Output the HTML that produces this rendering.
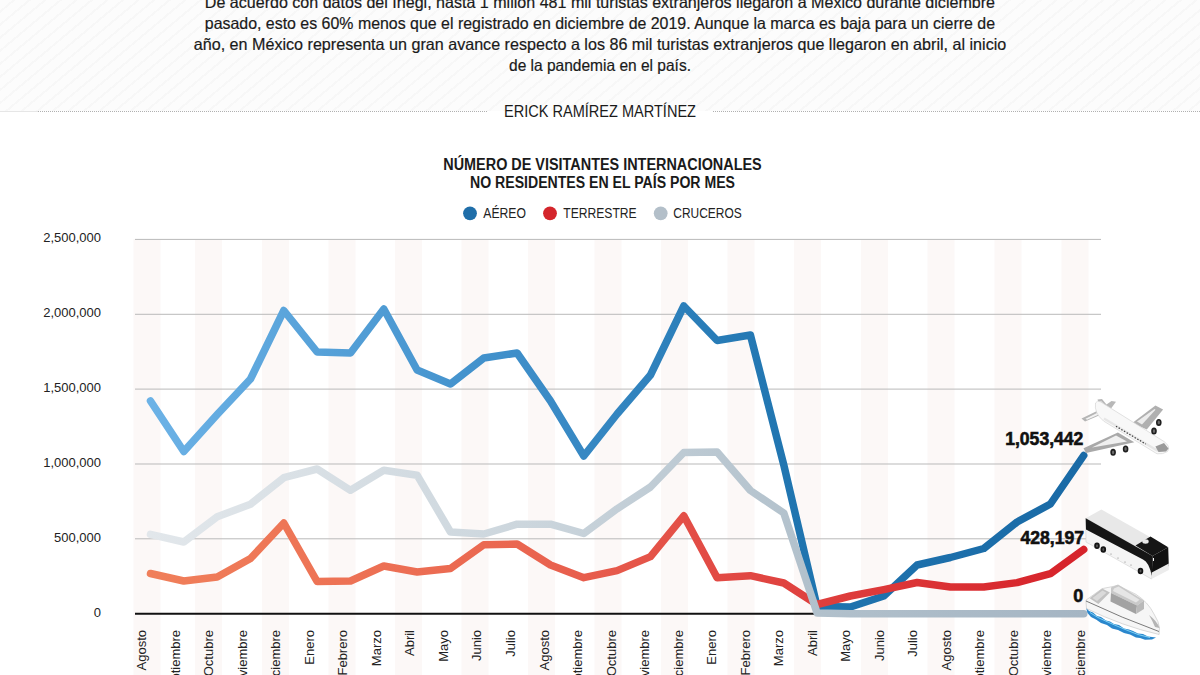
<!DOCTYPE html>
<html><head><meta charset="utf-8">
<style>
html,body{margin:0;padding:0;}
body{width:1200px;height:675px;overflow:hidden;background:#fff;position:relative;font-family:"Liberation Sans",sans-serif;color:#1a1a1a;}
#hdr{position:absolute;left:0;top:0;width:1200px;height:111px;background-color:#fcfcfc;
background-image:repeating-linear-gradient(140deg, rgba(0,0,0,0) 0px, rgba(0,0,0,0) 8px, rgba(0,0,0,0.02) 8px, rgba(0,0,0,0.02) 10px);}
.pl{position:absolute;left:0;width:1200px;text-align:center;font-size:16px;line-height:20px;white-space:nowrap;color:#1c1c1c;}
#auth{position:absolute;left:0;top:101px;width:1200px;text-align:center;font-size:14.5px;line-height:20px;color:#1c1c1c;}
.dot{position:absolute;top:111px;height:0;border-top:1px dotted #b5b5b5;}
svg{position:absolute;left:0;top:0;}
.pt{font-size:16.5px;fill:#1a1a1a;stroke:#1a1a1a;stroke-width:0.2px;}
.au{font-size:16.5px;fill:#1a1a1a;}
.yl{font-size:13px;fill:#222;}
.ml{font-size:13px;fill:#222;}
.tt{font-size:16px;font-weight:bold;fill:#1a1a1a;}
.lg{font-size:14px;fill:#222;}
.vl{font-size:18px;font-weight:bold;fill:#111;stroke:#111;stroke-width:0.6px;}
</style></head><body>
<div id="hdr"></div>
<svg width="1200" height="675" viewBox="0 0 1200 675">
<defs>
<linearGradient id="gb" gradientUnits="userSpaceOnUse" x1="150" y1="0" x2="1084" y2="0">
<stop offset="0" stop-color="#6cb2e6"/><stop offset="0.38" stop-color="#3f8fca"/><stop offset="0.7" stop-color="#1f74af"/><stop offset="1" stop-color="#1a6aa6"/></linearGradient>
<linearGradient id="gr" gradientUnits="userSpaceOnUse" x1="150" y1="0" x2="1084" y2="0">
<stop offset="0" stop-color="#f07f5a"/><stop offset="0.4" stop-color="#ea6650"/><stop offset="0.6" stop-color="#e24b45"/><stop offset="1" stop-color="#d6222a"/></linearGradient>
<linearGradient id="gg" gradientUnits="userSpaceOnUse" x1="150" y1="0" x2="1084" y2="0">
<stop offset="0" stop-color="#e2e7eb"/><stop offset="0.4" stop-color="#ccd6dd"/><stop offset="0.7" stop-color="#b2c1cc"/><stop offset="1" stop-color="#a5b5c3"/></linearGradient>
</defs>
<text x="204.8" y="7.5" class="pt" textLength="790.2" lengthAdjust="spacingAndGlyphs">De acuerdo con datos del Inegi, hasta 1 millón 481 mil turistas extranjeros llegaron a México durante diciembre</text>
<text x="204.8" y="28.8" class="pt" textLength="790.2" lengthAdjust="spacingAndGlyphs">pasado, esto es 60% menos que el registrado en diciembre de 2019. Aunque la marca es baja para un cierre de</text>
<text x="193.75" y="50.1" class="pt" textLength="812.5" lengthAdjust="spacingAndGlyphs">año, en México representa un gran avance respecto a los 86 mil turistas extranjeros que llegaron en abril, al inicio</text>
<text x="509" y="71.4" class="pt" textLength="182" lengthAdjust="spacingAndGlyphs">de la pandemia en el país.</text>
<text x="504" y="117" class="au" textLength="192" lengthAdjust="spacingAndGlyphs">ERICK RAMÍREZ MARTÍNEZ</text>
<line x1="0" y1="111.5" x2="38" y2="111.5" stroke="#e6e6e6" stroke-width="1"/>
<line x1="38" y1="111.5" x2="487.5" y2="111.5" stroke="#b0b0b0" stroke-width="1" stroke-dasharray="1 1"/>
<line x1="713" y1="111.5" x2="1200" y2="111.5" stroke="#b0b0b0" stroke-width="1" stroke-dasharray="1 1"/>
<rect x="133.5" y="239" width="27" height="436" fill="#fcf8f7"/><rect x="195.0" y="239" width="27" height="436" fill="#fcf8f7"/><rect x="262.0" y="239" width="27" height="436" fill="#fcf8f7"/><rect x="328.5" y="239" width="27" height="436" fill="#fcf8f7"/><rect x="395.0" y="239" width="27" height="436" fill="#fcf8f7"/><rect x="461.5" y="239" width="27" height="436" fill="#fcf8f7"/><rect x="528.0" y="239" width="27" height="436" fill="#fcf8f7"/><rect x="594.5" y="239" width="27" height="436" fill="#fcf8f7"/><rect x="661.0" y="239" width="27" height="436" fill="#fcf8f7"/><rect x="727.5" y="239" width="27" height="436" fill="#fcf8f7"/><rect x="794.0" y="239" width="27" height="436" fill="#fcf8f7"/><rect x="861.0" y="239" width="27" height="436" fill="#fcf8f7"/><rect x="927.5" y="239" width="27" height="436" fill="#fcf8f7"/><rect x="994.5" y="239" width="27" height="436" fill="#fcf8f7"/><rect x="1061.5" y="239" width="27" height="436" fill="#fcf8f7"/>
<line x1="135" y1="239.4" x2="1101" y2="239.4" stroke="#b9b9b9" stroke-width="1"/><line x1="135" y1="314.3" x2="1101" y2="314.3" stroke="#b9b9b9" stroke-width="1"/><line x1="135" y1="389.1" x2="1101" y2="389.1" stroke="#b9b9b9" stroke-width="1"/><line x1="135" y1="464.0" x2="1101" y2="464.0" stroke="#b9b9b9" stroke-width="1"/><line x1="135" y1="538.8" x2="1101" y2="538.8" stroke="#b9b9b9" stroke-width="1"/>
<line x1="135" y1="613.7" x2="1083" y2="613.7" stroke="#111" stroke-width="2"/>
<text x="101" y="242.4" text-anchor="end" class="yl">2,500,000</text><text x="101" y="317.3" text-anchor="end" class="yl">2,000,000</text><text x="101" y="392.1" text-anchor="end" class="yl">1,500,000</text><text x="101" y="467.0" text-anchor="end" class="yl">1,000,000</text><text x="101" y="541.8" text-anchor="end" class="yl">500,000</text><text x="101" y="616.7" text-anchor="end" class="yl">0</text>
<text transform="translate(146.3,630) rotate(-90)" text-anchor="end" class="ml">Agosto</text><text transform="translate(179.8,630) rotate(-90)" text-anchor="end" class="ml">Septiembre</text><text transform="translate(213.3,630) rotate(-90)" text-anchor="end" class="ml">Octubre</text><text transform="translate(246.8,630) rotate(-90)" text-anchor="end" class="ml">Noviembre</text><text transform="translate(280.4,630) rotate(-90)" text-anchor="end" class="ml">Diciembre</text><text transform="translate(313.9,630) rotate(-90)" text-anchor="end" class="ml">Enero</text><text transform="translate(347.4,630) rotate(-90)" text-anchor="end" class="ml">Febrero</text><text transform="translate(380.9,630) rotate(-90)" text-anchor="end" class="ml">Marzo</text><text transform="translate(414.4,630) rotate(-90)" text-anchor="end" class="ml">Abril</text><text transform="translate(447.9,630) rotate(-90)" text-anchor="end" class="ml">Mayo</text><text transform="translate(481.4,630) rotate(-90)" text-anchor="end" class="ml">Junio</text><text transform="translate(514.9,630) rotate(-90)" text-anchor="end" class="ml">Julio</text><text transform="translate(548.5,630) rotate(-90)" text-anchor="end" class="ml">Agosto</text><text transform="translate(582.0,630) rotate(-90)" text-anchor="end" class="ml">Septiembre</text><text transform="translate(615.5,630) rotate(-90)" text-anchor="end" class="ml">Octubre</text><text transform="translate(649.0,630) rotate(-90)" text-anchor="end" class="ml">Noviembre</text><text transform="translate(682.5,630) rotate(-90)" text-anchor="end" class="ml">Diciembre</text><text transform="translate(716.0,630) rotate(-90)" text-anchor="end" class="ml">Enero</text><text transform="translate(749.5,630) rotate(-90)" text-anchor="end" class="ml">Febrero</text><text transform="translate(783.0,630) rotate(-90)" text-anchor="end" class="ml">Marzo</text><text transform="translate(816.6,630) rotate(-90)" text-anchor="end" class="ml">Abril</text><text transform="translate(850.1,630) rotate(-90)" text-anchor="end" class="ml">Mayo</text><text transform="translate(883.6,630) rotate(-90)" text-anchor="end" class="ml">Junio</text><text transform="translate(917.1,630) rotate(-90)" text-anchor="end" class="ml">Julio</text><text transform="translate(950.6,630) rotate(-90)" text-anchor="end" class="ml">Agosto</text><text transform="translate(984.1,630) rotate(-90)" text-anchor="end" class="ml">Septiembre</text><text transform="translate(1017.6,630) rotate(-90)" text-anchor="end" class="ml">Octubre</text><text transform="translate(1051.2,630) rotate(-90)" text-anchor="end" class="ml">Noviembre</text><text transform="translate(1084.7,630) rotate(-90)" text-anchor="end" class="ml">Diciembre</text>
<text x="443.3" y="170" class="tt" textLength="318.4" lengthAdjust="spacingAndGlyphs">NÚMERO DE VISITANTES INTERNACIONALES</text>
<text x="470" y="187.5" class="tt" textLength="265" lengthAdjust="spacingAndGlyphs">NO RESIDENTES EN EL PAÍS POR MES</text>
<circle cx="470" cy="213.3" r="6.9" fill="#1f6ea9"/>
<text x="483.3" y="218.2" class="lg" textLength="42.7" lengthAdjust="spacingAndGlyphs">AÉREO</text>
<circle cx="550" cy="213.3" r="6.9" fill="#d4252b"/>
<text x="563.3" y="218.2" class="lg" textLength="73.4" lengthAdjust="spacingAndGlyphs">TERRESTRE</text>
<circle cx="660.7" cy="213.3" r="6.9" fill="#b3bfc9"/>
<text x="673.3" y="218.2" class="lg" textLength="68.4" lengthAdjust="spacingAndGlyphs">CRUCEROS</text>
<polyline points="150.5,401.0 183.8,451.5 217.2,414.5 250.5,379.0 283.8,310.5 317.1,352.0 350.5,353.0 383.8,309.0 417.1,370.0 450.5,384.0 483.8,358.0 517.1,353.0 550.5,401.0 583.8,456.0 617.1,414.0 650.5,375.0 683.8,306.0 717.1,340.5 750.4,335.0 783.8,465.0 817.1,606.5 850.4,607.0 883.8,596.0 917.1,565.0 950.4,557.5 983.8,548.5 1017.1,522.0 1050.4,504.0 1083.7,455.5" fill="none" stroke="url(#gb)" stroke-width="7.5" stroke-linejoin="round" stroke-linecap="round"/>
<polyline points="150.5,573.5 183.8,581.0 217.2,577.0 250.5,558.5 283.8,523.0 317.1,581.5 350.5,581.0 383.8,566.0 417.1,572.0 450.5,568.5 483.8,544.7 517.1,544.0 550.5,565.0 583.8,577.7 617.1,570.6 650.5,556.6 683.8,515.8 717.1,577.7 750.4,575.7 783.8,583.0 817.1,604.5 850.4,596.0 883.8,589.6 917.1,582.5 950.4,587.0 983.8,587.0 1017.1,582.6 1050.4,573.7 1083.7,549.5" fill="none" stroke="url(#gr)" stroke-width="7.5" stroke-linejoin="round" stroke-linecap="round"/>
<polyline points="150.5,534.4 183.8,542.0 217.2,516.8 250.5,504.2 283.8,477.7 317.1,469.0 350.5,490.3 383.8,470.2 417.1,475.2 450.5,532.0 483.8,534.0 517.1,524.2 550.5,524.2 583.8,533.5 617.1,508.8 650.5,487.0 683.8,452.5 717.1,452.0 750.4,490.5 783.8,513.0 817.1,613.0 850.4,613.7 883.8,613.7 917.1,613.7 950.4,613.7 983.8,613.7 1017.1,613.7 1050.4,613.7 1083.7,613.7" fill="none" stroke="url(#gg)" stroke-width="7.5" stroke-linejoin="round" stroke-linecap="round"/>
<text x="1005.2" y="445.3" class="vl" textLength="78.2" lengthAdjust="spacingAndGlyphs">1,053,442</text>
<text x="1020.4" y="543.9" class="vl" textLength="63.6" lengthAdjust="spacingAndGlyphs">428,197</text>
<text x="1073.3" y="601.8" class="vl">0</text>
<g id="plane">
<polygon points="1132.3,422.9 1155.4,405.6 1163.1,409.4 1146.8,429.6" fill="#b0b0b0"/>
<polygon points="1137,421.5 1154.5,409 1155.5,409.8 1142,424.5" fill="#ececec"/>
<polygon points="1097.5,399.5 1102,399 1106.5,404.5 1111.5,401 1116,401.7 1109.2,411 1101,409" fill="#b8b8b8"/>
<polygon points="1099.5,401.5 1101.5,401.3 1105,405.5 1102,407" fill="#e8e8e8"/>
<polygon points="1081.5,418.5 1098,410.5 1102.5,414 1085,421.5" fill="#b5b5b5"/>
<polygon points="1085.5,418.8 1097.5,412.8 1099.5,414.2 1087,419.8" fill="#f2f2f2"/>
<path d="M1095.5,403 Q1097,400 1100.5,401.8 L1164,441.5 Q1171,446.5 1167.5,451.5 Q1163,454.5 1157,453.8 L1103.5,421 Q1094,413 1095.5,403 Z" fill="#f8f8f8" stroke="#d5d5d5" stroke-width="0.7"/>
<path d="M1104,418.5 L1158,451" stroke="#e6e6e6" stroke-width="2.2" fill="none"/>
<line x1="1116" y1="426.3" x2="1145.8" y2="444.1" stroke="#3a3a3a" stroke-width="1.2" stroke-dasharray="1.4 1.7"/>
<polygon points="1155.4,446.5 1164,443 1168.5,448.5 1166,451.5 1158.5,452" fill="#9a9a9a"/>
<polygon points="1117.9,432.5 1083.5,448.2 1086,453 1134.3,442.2" fill="#a9a9a9"/>
<polygon points="1116,435.5 1092,447.5 1127,441.5" fill="#f0f0f0"/>
<g fill="#6a6a6a" stroke="#1e1e1e" stroke-width="1.6">
<ellipse cx="1158.8" cy="422.4" rx="2" ry="2.7"/>
<ellipse cx="1154" cy="431.1" rx="2" ry="2.7"/>
<ellipse cx="1125.6" cy="448.9" rx="2" ry="2.7"/>
<ellipse cx="1113.1" cy="452.3" rx="2" ry="2.7"/>
</g>
</g>
<g id="bus">
<polygon points="1085.7,518.3 1101.4,509.4 1168.2,547.2 1152.5,556" fill="#e8e8e8"/>
<polygon points="1085.7,518.3 1152.5,556 1151.5,579 1086,542" fill="#f4f4f4" stroke="#d0d0d0" stroke-width="0.6"/>
<path d="M1085.7,518.3 L1152.5,556 L1151.8,576 Q1149,562 1143,559.5 L1086,529.5 Z" fill="#151515"/>
<polygon points="1135.5,545.5 1150.5,536.5 1168.2,547.2 1152.5,556" fill="#151515"/>
<ellipse cx="1145.5" cy="541.5" rx="3.2" ry="2.2" fill="#e8e8e8"/>
<polygon points="1152.5,556 1168.2,547.2 1168.8,566 1151.8,575" fill="#111"/>
<polygon points="1151.8,572.5 1168.8,563.5 1168.8,570 1151.5,579" fill="#ececec"/>
<line x1="1153.5" y1="558" x2="1153.5" y2="561" stroke="#fff" stroke-width="1"/>
<g fill="#555" stroke="#151515" stroke-width="1.8">
<ellipse cx="1097" cy="545.8" rx="1.9" ry="2.4"/>
<ellipse cx="1103.3" cy="549.5" rx="1.9" ry="2.4"/>
<ellipse cx="1140.5" cy="571" rx="1.9" ry="2.4"/>
</g>
<g fill="#666">
<circle cx="1111" cy="554" r="0.5"/><circle cx="1118" cy="558" r="0.5"/><circle cx="1125" cy="562" r="0.5"/><circle cx="1131" cy="565" r="0.5"/>
</g>
</g>
<g id="boat">
<path d="M1086,607.5 L1089,611 L1093,612.5 L1097,616 L1101,617 L1106,620.5 L1110,621.5 L1114,624 L1119,625 L1124,628.5 L1129,629.5 L1133,631 L1138,633.5 L1143,634 L1148,636.5 L1152,637 L1156,637.5 L1152,639.5 L1145,639.8 L1140,638 L1136,637.5 L1130,634.5 L1124,633 L1118,630 L1112,628.5 L1107,625 L1101,623 L1096,619.5 L1091,617 L1087.5,613 Z" fill="#2a87cd"/>
<path d="M1090,612.5 L1098,617.5 L1110,623 L1124,629 L1138,634.5 L1150,637.5" fill="none" stroke="#86d8f7" stroke-width="0.9"/>
<path d="M1085.9,600.2 L1102.2,588.6 L1118,585.5 L1136,594.4 Q1148,602 1154,614 Q1159,622 1159.5,628 L1159.1,634.5 Q1122,626 1086.5,608.5 Z" fill="#f6f6f6" stroke="#cacaca" stroke-width="0.7"/>
<path d="M1149,615 Q1157,621 1159.5,628 L1155,627 Q1152,620 1149,615 Z" fill="#b5b5b5"/>
<path d="M1086,601 Q1122,618 1159,631.5" fill="none" stroke="#5a5a5a" stroke-width="0.8"/>
<polygon points="1089.7,598.2 1102.2,588.6 1109.9,592.5 1098.4,604" fill="#c2c2c2"/>
<polygon points="1092.5,598 1102.5,590.5 1106.5,592.8 1097,601" fill="#dadada"/>
<polygon points="1111,587.5 1118,584.5 1144,600.5 1137,605.5 1111,593" fill="#c9c9c9"/>
<polygon points="1114,588.5 1118.5,586.5 1139.5,599.8 1136,602.5 1113,591" fill="#e6e6e6"/>
<polygon points="1111,593 1137,605.5 1136,614 1110.5,601.5" fill="#a2a2a2"/>
<polygon points="1137,605.5 1144,600.5 1144,609 1136,614" fill="#b9b9b9"/>
</g>

</svg>
</body></html>
